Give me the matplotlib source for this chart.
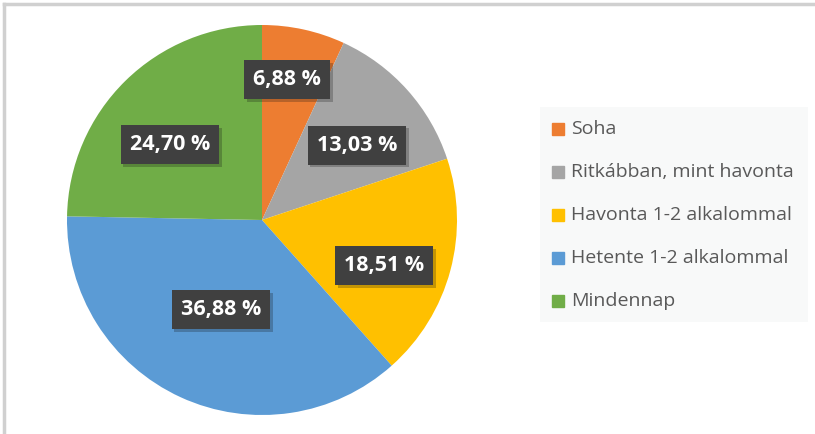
import matplotlib.pyplot as plt
import matplotlib.patheffects as pe
import numpy as np

labels = ['Soha', 'Ritkábban, mint havonta', 'Havonta 1-2 alkalommal',
          'Hetente 1-2 alkalommal', 'Mindennap']
values = [6.88, 13.03, 18.51, 36.88, 24.70]
colors = ['#ED7D31', '#A5A5A5', '#FFC000', '#5B9BD5', '#70AD47']
# data label placement: radial fraction and clockwise angle shift from slice middle
label_r = [0.73, 0.62, 0.67, 0.505, 0.61]
label_shift = [-2.3, 3.5, 5.5, 0.0, -6.3]

plt.rcParams['font.family'] = ['Open Sans', 'DejaVu Sans']

fig = plt.figure(figsize=(8.15, 4.34), dpi=100)
# light frame on top and left
fig.add_artist(plt.Line2D([4/815, 4/815], [0, 1 - 4/434], color='#d0d0d0', lw=2.5))
fig.add_artist(plt.Line2D([4/815, 1], [1 - 4/434, 1 - 4/434], color='#d0d0d0', lw=2.5))

r_px = 195
ax = fig.add_axes([(262 - r_px) / 815, 1 - (220 + r_px) / 434, 2 * r_px / 815, 2 * r_px / 434])
wedges, _ = ax.pie(values, colors=colors, startangle=90, counterclock=False,
                   radius=1.0, wedgeprops=dict(linewidth=0))
ax.set_xlim(-1, 1)
ax.set_ylim(-1, 1)
ax.set_aspect('auto')

for w, v, fr, sh in zip(wedges, values, label_r, label_shift):
    ang = np.deg2rad((w.theta1 + w.theta2) / 2 - sh)
    x, y = fr * np.cos(ang), fr * np.sin(ang)
    txt = f'{v:.2f} %'.replace('.', ',')
    t = ax.text(x, y, txt, ha='center', va='center', fontsize=15.5, fontweight='bold',
                color='white',
                bbox=dict(boxstyle='square,pad=0.42', fc='#404040', ec='none'))
    t.get_bbox_patch().set_path_effects(
        [pe.SimplePatchShadow(offset=(2, -2), alpha=0.25), pe.Normal()])

# legend box
lax = fig.add_axes([540/815, 1 - 322/434, 268/815, 215/434])
lax.set_facecolor('#f8f9f9')
for s in lax.spines.values():
    s.set_visible(False)
lax.set_xticks([])
lax.set_yticks([])
lax.set_xlim(0, 268)
lax.set_ylim(215, 0)
for i, (lab, c) in enumerate(zip(labels, colors)):
    yc = 22 + i * 43
    lax.add_patch(plt.Rectangle((12, yc - 6), 12, 12, color=c))
    lax.text(31, yc, lab, va='center', ha='left', fontsize=14, color='#595959')

fig.savefig('out.png', dpi=100)
